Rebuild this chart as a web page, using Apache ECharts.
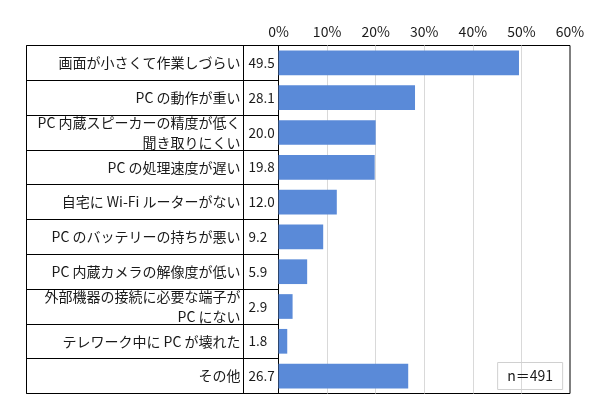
<!DOCTYPE html>
<html><head><meta charset="utf-8">
<script src="https://cdn.jsdelivr.net/npm/echarts@6/dist/echarts.min.js"></script>
<style>html,body{margin:0;padding:0;background:#fff}#c{width:590px;height:408px}</style>
</head><body><div id="c"></div>
<script>
const categories = [
  "画面が小さくて作業しづらい",
  "PC の動作が重い",
  "PC 内蔵スピーカーの精度が低く\n聞き取りにくい",
  "PC の処理速度が遅い",
  "自宅に Wi-Fi ルーターがない",
  "PC のバッテリーの持ちが悪い",
  "PC 内蔵カメラの解像度が低い",
  "外部機器の接続に必要な端子が\nPC にない",
  "テレワーク中に PC が壊れた",
  "その他"
];
const values = [49.5, 28.1, 20.0, 19.8, 12.0, 9.2, 5.9, 2.9, 1.8, 26.7];
const valueLabels = ["49.5","28.1","20.0","19.8","12.0","9.2","5.9","2.9","1.8","26.7"];
const xTicks = [0, 10, 20, 30, 40, 50, 60];
const note = "n＝491";

const font = "'Noto Sans CJK JP', 'Noto Sans', sans-serif";
const txt = '#1a1a1a';
const chart = echarts.init(document.getElementById('c'), null, {renderer:'canvas'});
const gTop = 45.5, gH = 348;
chart.setOption({
  animation: false,
  textStyle: {fontFamily: font},
  title: {
    text: note, right: 27, bottom: 18,
    borderColor: '#d0d0d0', borderWidth: 1, padding: [7, 10, 7, 10],
    textStyle: {fontSize: 14, fontWeight: 'normal', color: txt, fontFamily: font}
  },
  grid: [
    {left: 26.5, width: 217, top: gTop, height: gH, show: true, borderColor: '#000', borderWidth: 1, backgroundColor: 'transparent'},
    {left: 243.5, width: 35, top: gTop, height: gH, show: true, borderColor: '#000', borderWidth: 1, backgroundColor: 'transparent'},
    {left: 278.5, width: 291.5, top: gTop, height: gH, show: true, borderColor: '#000', borderWidth: 1, backgroundColor: 'transparent'}
  ],
  xAxis: [
    {gridIndex: 0, type: 'value', min: 0, max: 1, show: false},
    {gridIndex: 1, type: 'value', min: 0, max: 1, show: false},
    {gridIndex: 2, type: 'value', position: 'top', min: xTicks[0], max: xTicks[xTicks.length-1], interval: 10,
     axisLine: {show: false}, axisTick: {show: false},
     axisLabel: {formatter: '{value}%', color: txt, fontSize: 14, margin: 7, fontFamily: font},
     splitLine: {show: true, showMinLine: false, showMaxLine: false, lineStyle: {color: '#d9d9d9', width: 1}}}
  ],
  yAxis: [
    {gridIndex: 0, type: 'category', data: categories, inverse: true, position: 'right',
     axisLine: {show: false}, axisTick: {show: false},
     axisLabel: {inside: true, margin: 3, color: txt, fontSize: 14, lineHeight: 20, fontFamily: font, align: 'right'},
     splitLine: {show: true, lineStyle: {color: '#000', width: 1}}},
    {gridIndex: 1, type: 'category', data: valueLabels, inverse: true, position: 'left',
     axisLine: {show: false}, axisTick: {show: false},
     axisLabel: {inside: true, margin: 5, color: txt, fontSize: 13.5, fontFamily: font, align: 'left'},
     splitLine: {show: true, lineStyle: {color: '#000', width: 1}}},
    {gridIndex: 2, type: 'category', data: categories, inverse: true,
     axisLine: {show: false}, axisTick: {show: false}, axisLabel: {show: false}, splitLine: {show: false}}
  ],
  series: [{
    type: 'bar', xAxisIndex: 2, yAxisIndex: 2, data: values,
    barWidth: '71%', itemStyle: {color: '#5A8AD8'}
  }]
});
</script></body></html>
